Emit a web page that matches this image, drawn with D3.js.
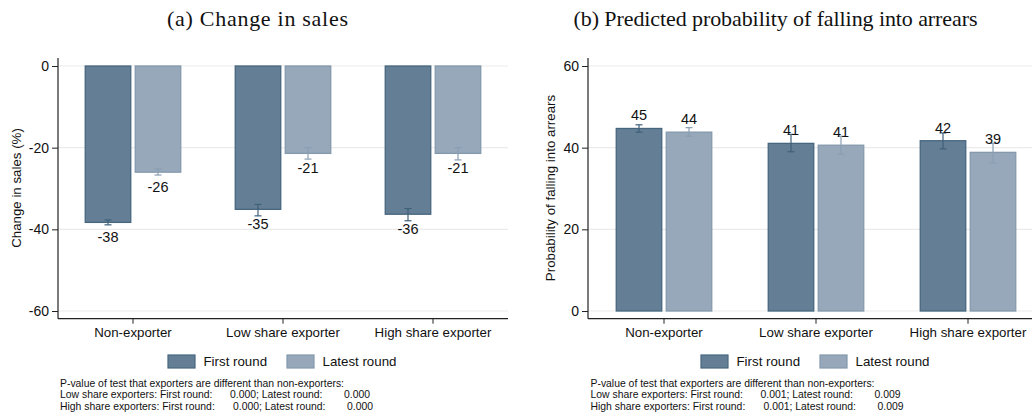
<!DOCTYPE html>
<html><head><meta charset="utf-8">
<script src="https://cdn.jsdelivr.net/npm/d3@7"></script>
<style>
html,body{margin:0;padding:0;background:#fff;}
text{font-family:"Liberation Sans",Arial,sans-serif;fill:#111;}
.title{font-family:"Liberation Serif","Times New Roman",serif;}
</style></head>
<body>
<svg id="chart" width="1032" height="416"></svg>
<script>
// ---- data ----
const categories = ["Non-exporter", "Low share exporter", "High share exporter"];
const seriesNames = ["First round", "Latest round"];

const salesFirst = [-38.3, -35.1, -36.3];
const salesLatest = [-26.0, -21.4, -21.4];
const salesFirstLo = [-38.9, -36.7, -37.9];
const salesFirstHi = [-37.7, -33.9, -34.9];
const salesLatestLo = [-26.7, -22.8, -23.0];
const salesLatestHi = [-25.2, -20.0, -20.0];
const salesTicks = [0, -20, -40, -60];

const arrearsFirst = [44.7, 41.05, 41.7];
const arrearsLatest = [43.8, 40.6, 38.85];
const arrearsFirstLo = [43.8, 39.0, 39.7];
const arrearsFirstHi = [45.6, 43.25, 43.6];
const arrearsLatestLo = [42.8, 38.4, 36.3];
const arrearsLatestHi = [44.9, 42.8, 41.05];
const arrearsTicks = [0, 20, 40, 60];

const noteHeader = "P-value of test that exporters are different than non-exporters:";
const noteGroups = ["Low share exporters: First round:", "High share exporters: First round:"];
const noteLatest = "; Latest round:";
const salesPFirst = ["0.000", "0.000"];
const salesPLatest = ["0.000", "0.000"];
const arrearsPFirst = ["0.001", "0.001"];
const arrearsPLatest = ["0.009", "0.009"];

// ---- style ----
const fills = ["#647f95", "#96a8b9"];
const strokes = ["#46667f", "#8499ad"];
const errColors = ["#3f607a", "#8a9fb3"];
const fmt = d => String(d);

const svg = d3.select("#chart");

function panel(opts) {
  const g = svg.append("g");
  const x0 = d3.scaleBand().domain(categories).range([opts.left, opts.right]).padding(0);
  const x1 = d3.scaleBand().domain(seriesNames).range([-47.75, 47.75]).paddingInner(0.09);
  const y = d3.scaleLinear().domain(opts.domain).range([311, 66]);
  const top = 58, bottom = 318.7;

  // title
  g.append("text").attr("class", "title")
    .attr("x", opts.titleX).attr("y", 26).attr("text-anchor", "middle")
    .attr("font-size", 22).attr("textLength", opts.titleW).attr("lengthAdjust", "spacing")
    .text(opts.title);

  // grid
  g.selectAll(".grid").data(opts.ticks).join("line")
    .attr("x1", opts.left).attr("x2", opts.right)
    .attr("y1", d => y(d)).attr("y2", d => y(d))
    .attr("stroke", "#ebebeb").attr("stroke-width", 1.2);

  const data = [];
  categories.forEach((c, i) => {
    opts.values.forEach((vals, s) => {
      data.push({c, s, v: vals[i], lo: opts.lo[s][i], hi: opts.hi[s][i]});
    });
  });

  // bars
  g.selectAll(".bar").data(data).join("rect")
    .attr("x", d => x0(d.c) + x0.bandwidth() / 2 + x1(seriesNames[d.s]))
    .attr("width", x1.bandwidth())
    .attr("y", d => Math.min(y(d.v), y(0)))
    .attr("height", d => Math.abs(y(d.v) - y(0)))
    .attr("fill", d => fills[d.s])
    .attr("stroke", d => strokes[d.s]).attr("stroke-width", 1.3);

  // error bars
  const cx = d => x0(d.c) + x0.bandwidth() / 2 + x1(seriesNames[d.s]) + x1.bandwidth() / 2;
  const eg = g.selectAll(".err").data(data).join("g").attr("stroke", d => errColors[d.s]).attr("stroke-width", 1.2);
  eg.append("line").attr("x1", cx).attr("x2", cx).attr("y1", d => y(d.lo)).attr("y2", d => y(d.hi));
  eg.append("line").attr("x1", d => cx(d) - 3.5).attr("x2", d => cx(d) + 3.5).attr("y1", d => y(d.lo)).attr("y2", d => y(d.lo));
  eg.append("line").attr("x1", d => cx(d) - 3.5).attr("x2", d => cx(d) + 3.5).attr("y1", d => y(d.hi)).attr("y2", d => y(d.hi));

  // value labels
  g.selectAll(".lab").data(data).join("text")
    .attr("x", cx)
    .attr("y", d => d.v < 0 ? y(d.v) + 14.5 : y(d.v) - 13.3)
    .attr("dy", "0.36em").attr("text-anchor", "middle").attr("font-size", 14.5)
    .text(d => fmt(Math.round(d.v)));

  // axes
  const ya = g.append("g").attr("transform", `translate(${opts.left},0)`)
    .call(d3.axisLeft(y).tickValues(opts.ticks).tickSize(6).tickPadding(3).tickFormat(fmt));
  ya.select(".domain").remove();
  ya.selectAll("line").attr("stroke", "#222");
  ya.selectAll("text").attr("font-size", 14).attr("fill", "#111").style("font-family", '"Liberation Sans",Arial,sans-serif');
  g.append("line").attr("x1", opts.left).attr("x2", opts.left).attr("y1", top).attr("y2", bottom).attr("stroke", "#222").attr("stroke-width", 1.2);

  const xa = g.append("g").attr("transform", `translate(0,${bottom})`)
    .call(d3.axisBottom(x0).tickSize(5).tickPadding(4));
  xa.select(".domain").remove();
  xa.selectAll("line").attr("stroke", "#222");
  xa.selectAll("text").attr("font-size", 13.3).attr("fill", "#111").style("font-family", '"Liberation Sans",Arial,sans-serif');
  g.append("line").attr("x1", opts.left).attr("x2", opts.right).attr("y1", bottom).attr("y2", bottom).attr("stroke", "#222").attr("stroke-width", 1.2);

  // y title
  g.append("text").attr("transform", `translate(${opts.yTitleX},188) rotate(-90)`)
    .attr("text-anchor", "middle").attr("dy", "0.35em").attr("font-size", 13.3).text(opts.yTitle);

  // legend
  seriesNames.forEach((s, i) => {
    const lx = opts.legendX[i];
    g.append("rect").attr("x", lx).attr("y", 355).attr("width", 27).attr("height", 13)
      .attr("fill", fills[i]).attr("stroke", strokes[i]).attr("stroke-width", 1.2);
    g.append("text").attr("x", lx + 35.5).attr("y", 361.7).attr("dy", "0.35em").attr("font-size", 13.3).text(s);
  });

  // notes
  const nx = opts.noteX;
  g.append("text").attr("x", nx).attr("y", 383).attr("dy", "0.35em").attr("font-size", 10.4).text(noteHeader);
  noteGroups.forEach((lab, i) => {
    const ty = 394.8 + i * 11.4;
    const shift = i * 3.0;
    const t = g.append("text").attr("y", ty).attr("dy", "0.35em").attr("font-size", 10.4);
    t.append("tspan").attr("x", nx).text(lab);
    t.append("tspan").attr("x", nx + 170 + shift).text(opts.pFirst[i] + noteLatest);
    t.append("tspan").attr("x", nx + 284 + shift).text(opts.pLatest[i]);
  });
}

panel({
  left: 58, right: 508, domain: [-60, 0], ticks: salesTicks,
  values: [salesFirst, salesLatest], lo: [salesFirstLo, salesLatestLo], hi: [salesFirstHi, salesLatestHi],
  title: "(a) Change in sales", titleX: 257.5, titleW: 181,
  yTitle: "Change in sales (%)", yTitleX: 16.5,
  legendX: [168, 287], noteX: 60, pFirst: salesPFirst, pLatest: salesPLatest
});
panel({
  left: 588, right: 1044, domain: [0, 60], ticks: arrearsTicks,
  values: [arrearsFirst, arrearsLatest], lo: [arrearsFirstLo, arrearsLatestLo], hi: [arrearsFirstHi, arrearsLatestHi],
  title: "(b) Predicted probability of falling into arrears", titleX: 775.5, titleW: 404,
  yTitle: "Probability of falling into arrears", yTitleX: 550,
  legendX: [701, 820], noteX: 590.5, pFirst: arrearsPFirst, pLatest: arrearsPLatest
});
</script>
</body></html>
